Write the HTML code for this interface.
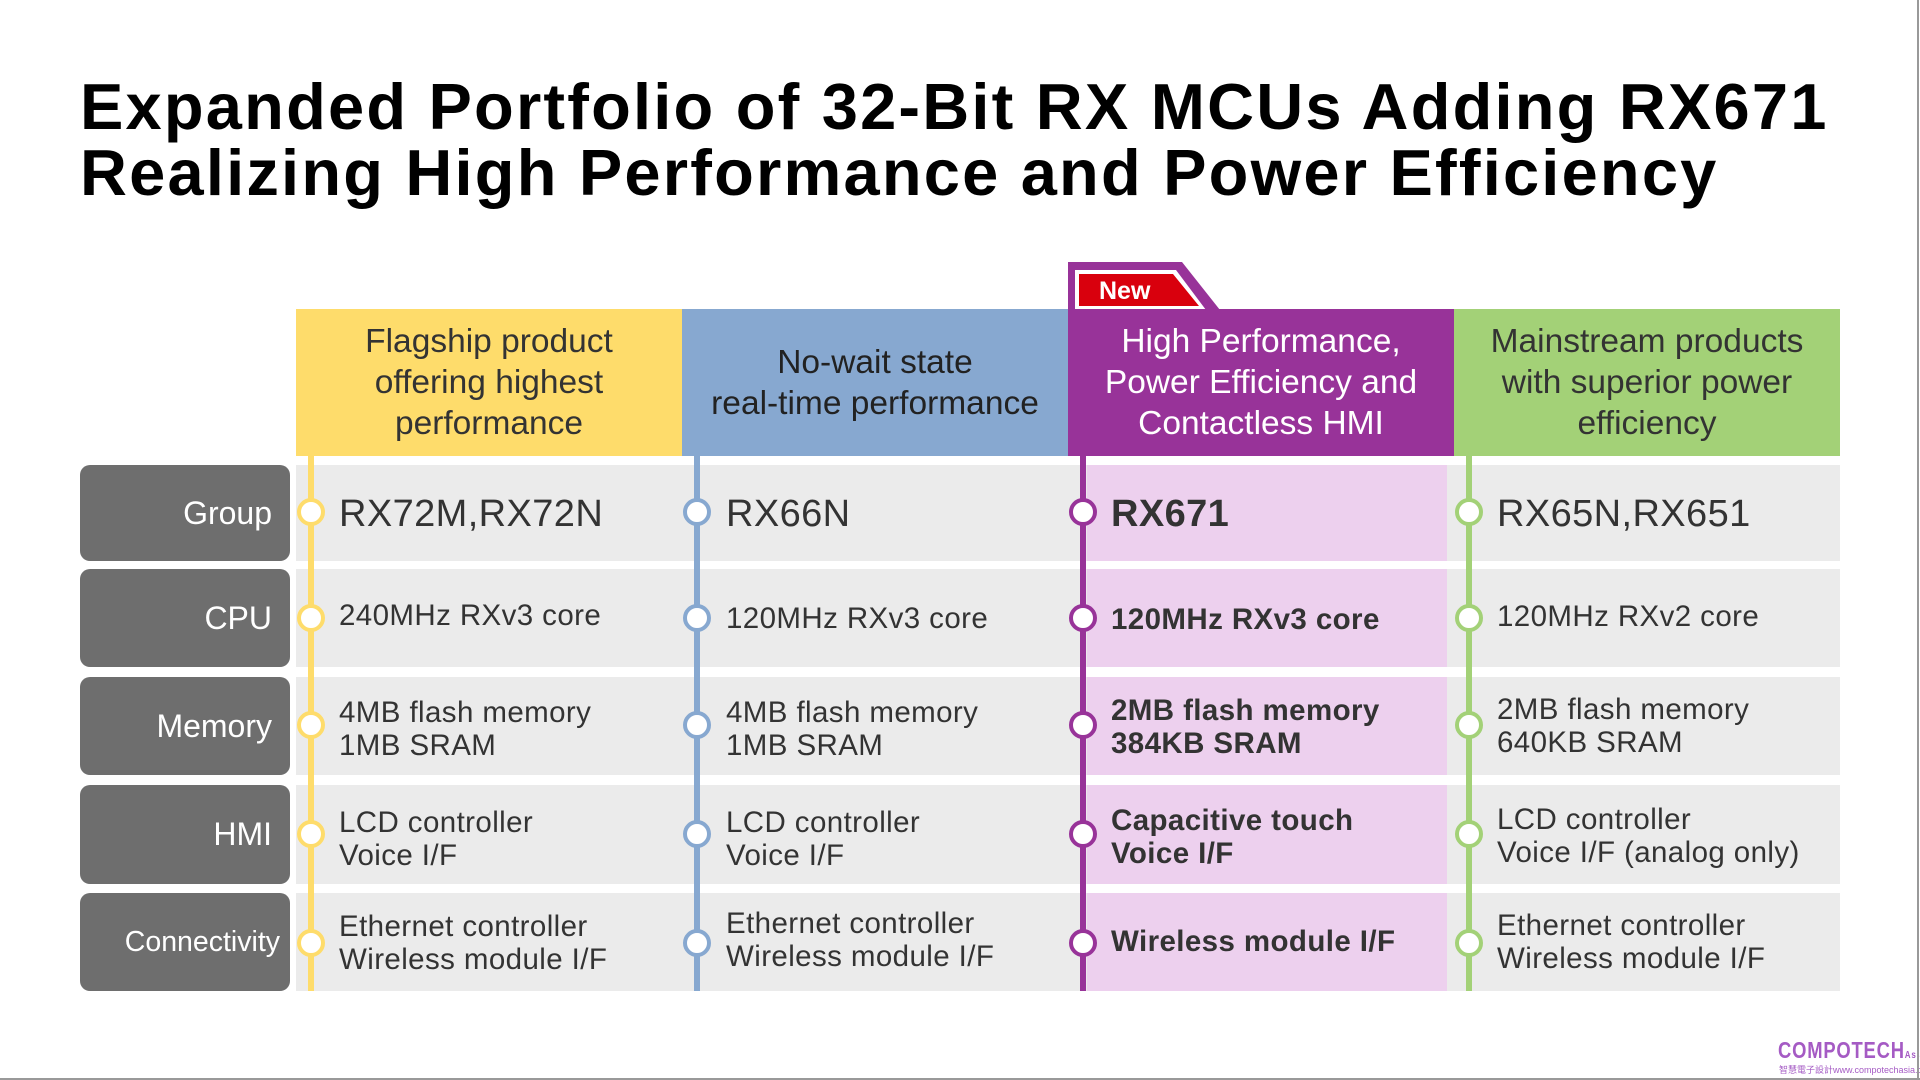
<!DOCTYPE html>
<html><head><meta charset="utf-8"><style>
*{margin:0;padding:0;box-sizing:border-box}
body{width:1920px;height:1080px;background:#fff;position:relative;overflow:hidden;font-family:"Liberation Sans",Arial,sans-serif;color:#333}
.a{position:absolute;white-space:nowrap}
.title{left:80px;top:74px;font-size:65px;font-weight:bold;color:#000;line-height:66px;letter-spacing:2.2px}
.hd{top:309px;height:147px;width:386px;display:flex;align-items:center;justify-content:center;text-align:center;font-size:33.5px;line-height:41px}
.lab{left:80px;width:210px;background:#6e6e6e;border-radius:10px;color:#fff;font-size:32px;display:flex;align-items:center;justify-content:flex-end;padding-right:18px}
.row{left:296px;width:1544px;background:#ebebeb}
.pink{left:1087px;width:360px;background:#edd0ee}
.vl{top:456px;height:535px;width:6px}
.c{width:28px;height:28px;border-radius:50%;background:#fff;border:4.5px solid}
.t{font-size:29.5px;line-height:33px;display:flex;align-items:center;height:98px;letter-spacing:0.4px}
.g{font-size:38px}
.b{font-weight:bold}
</style></head><body>
<div class="a title">Expanded Portfolio of 32-Bit RX MCUs Adding RX671<br>Realizing High Performance and Power Efficiency</div>

<svg class="a" style="left:1066px;top:260px" width="160" height="52"><polygon points="2,50 2,2 116,2 154,50" fill="#983399"/><polygon points="9,50 9,10 110,10 140,50" fill="#fff"/><polygon points="13,46 13,14 107,14 133,46" fill="#d9000d"/><text x="33" y="39" font-family="Liberation Sans" font-weight="bold" font-size="25" fill="#fff">New</text></svg>

<div class="a hd" style="left:296px;background:#fedc6b">Flagship product<br>offering highest<br>performance</div>
<div class="a hd" style="left:682px;background:#87a8d0;color:#222">No-wait state<br>real-time performance</div>
<div class="a hd" style="left:1068px;background:#983399;color:#fff">High Performance,<br>Power Efficiency and<br>Contactless HMI</div>
<div class="a hd" style="left:1454px;background:#a3d177">Mainstream products<br>with superior power<br>efficiency</div>

<div class="a lab" style="top:465px;height:96px">Group</div>
<div class="a lab" style="top:569px;height:98px">CPU</div>
<div class="a lab" style="top:677px;height:98px">Memory</div>
<div class="a lab" style="top:785px;height:99px">HMI</div>
<div class="a lab" style="top:893px;height:98px;font-size:28.5px;padding-right:10px">Connectivity</div>

<div class="a row" style="top:465px;height:96px"></div>
<div class="a row" style="top:569px;height:98px"></div>
<div class="a row" style="top:677px;height:98px"></div>
<div class="a row" style="top:785px;height:99px"></div>
<div class="a row" style="top:893px;height:98px"></div>
<div class="a pink" style="top:465px;height:96px"></div>
<div class="a pink" style="top:569px;height:98px"></div>
<div class="a pink" style="top:677px;height:98px"></div>
<div class="a pink" style="top:785px;height:99px"></div>
<div class="a pink" style="top:893px;height:98px"></div>

<div class="a vl" style="left:308px;background:#fedc6b"></div>
<div class="a vl" style="left:694px;background:#87a8d0"></div>
<div class="a vl" style="left:1080px;background:#983399"></div>
<div class="a vl" style="left:1466px;background:#a3d177"></div>

<div class="a c" style="left:297px;top:498px;border-color:#fedc6b"></div>
<div class="a c" style="left:297px;top:604px;border-color:#fedc6b"></div>
<div class="a c" style="left:297px;top:711px;border-color:#fedc6b"></div>
<div class="a c" style="left:297px;top:820px;border-color:#fedc6b"></div>
<div class="a c" style="left:297px;top:929px;border-color:#fedc6b"></div>
<div class="a c" style="left:683px;top:498px;border-color:#87a8d0"></div>
<div class="a c" style="left:683px;top:604px;border-color:#87a8d0"></div>
<div class="a c" style="left:683px;top:711px;border-color:#87a8d0"></div>
<div class="a c" style="left:683px;top:820px;border-color:#87a8d0"></div>
<div class="a c" style="left:683px;top:929px;border-color:#87a8d0"></div>
<div class="a c" style="left:1069px;top:498px;border-color:#983399"></div>
<div class="a c" style="left:1069px;top:604px;border-color:#983399"></div>
<div class="a c" style="left:1069px;top:711px;border-color:#983399"></div>
<div class="a c" style="left:1069px;top:820px;border-color:#983399"></div>
<div class="a c" style="left:1069px;top:929px;border-color:#983399"></div>
<div class="a c" style="left:1455px;top:498px;border-color:#a3d177"></div>
<div class="a c" style="left:1455px;top:604px;border-color:#a3d177"></div>
<div class="a c" style="left:1455px;top:711px;border-color:#a3d177"></div>
<div class="a c" style="left:1455px;top:820px;border-color:#a3d177"></div>
<div class="a c" style="left:1455px;top:929px;border-color:#a3d177"></div>

<div class="a t g" style="left:339px;top:465px">RX72M,RX72N</div>
<div class="a t" style="left:339px;top:566px">240MHz RXv3 core</div>
<div class="a t" style="left:339px;top:680px">4MB flash memory<br>1MB SRAM</div>
<div class="a t" style="left:339px;top:790px">LCD controller<br>Voice I/F</div>
<div class="a t" style="left:339px;top:894px">Ethernet controller<br>Wireless module I/F</div>

<div class="a t g" style="left:726px;top:465px">RX66N</div>
<div class="a t" style="left:726px;top:569px">120MHz RXv3 core</div>
<div class="a t" style="left:726px;top:680px">4MB flash memory<br>1MB SRAM</div>
<div class="a t" style="left:726px;top:790px">LCD controller<br>Voice I/F</div>
<div class="a t" style="left:726px;top:891px">Ethernet controller<br>Wireless module I/F</div>

<div class="a t g b" style="left:1111px;top:465px">RX671</div>
<div class="a t b" style="left:1111px;top:570px">120MHz RXv3 core</div>
<div class="a t b" style="left:1111px;top:678px">2MB flash memory<br>384KB SRAM</div>
<div class="a t b" style="left:1111px;top:788px">Capacitive touch<br>Voice I/F</div>
<div class="a t b" style="left:1111px;top:892px">Wireless module I/F</div>

<div class="a t g" style="left:1497px;top:465px">RX65N,RX651</div>
<div class="a t" style="left:1497px;top:567px">120MHz RXv2 core</div>
<div class="a t" style="left:1497px;top:677px">2MB flash memory<br>640KB SRAM</div>
<div class="a t" style="left:1497px;top:787px">LCD controller<br>Voice I/F (analog only)</div>
<div class="a t" style="left:1497px;top:893px">Ethernet controller<br>Wireless module I/F</div>

<div class="a" style="left:1778px;top:1037px;font-size:23px;font-weight:bold;color:#a55bc4;transform:scaleX(0.8);transform-origin:left;letter-spacing:1px">COMPOTECH<span style="font-size:10px">Asia</span></div>
<div class="a" style="left:1779px;top:1063px;font-size:9px;color:#a55bc4;font-family:'Liberation Sans','Noto Sans CJK TC',sans-serif">智慧電子設計www.compotechasia.com</div>
<div class="a" style="left:1917px;top:0;width:2px;height:1080px;background:#999"></div>
<div class="a" style="left:0;top:1078px;width:1920px;height:2px;background:#999"></div>
</body></html>
